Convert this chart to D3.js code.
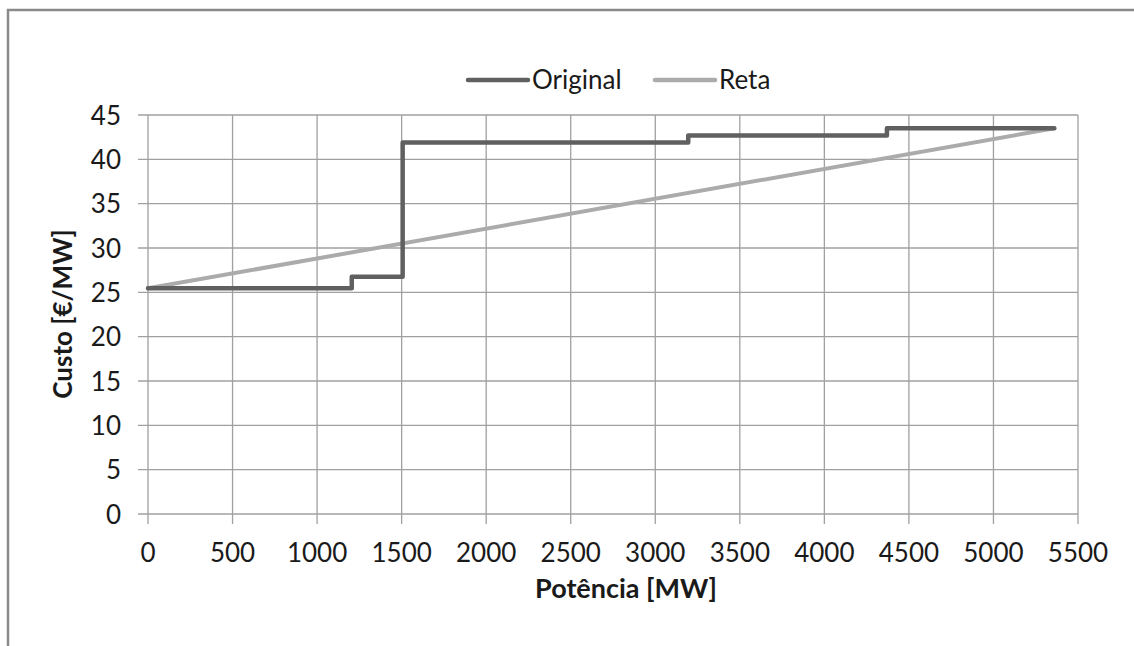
<!DOCTYPE html>
<html><head><meta charset="utf-8">
<script src="https://cdn.jsdelivr.net/npm/d3@7"></script>
<style>body{margin:0;background:#fff}svg{display:block}text{font-family:Lato,"Open Sans",sans-serif;fill:#1a1a1a}</style>
</head><body><svg id="c" width="1134" height="646"></svg>
<script>
const originalX = [0, 1205, 1205, 1506, 1506, 3195, 3195, 4370, 4370, 5360];
const originalY = [25.45, 25.45, 26.75, 26.75, 41.9, 41.9, 42.7, 42.7, 43.5, 43.5];
const retaX = [0, 5360];
const retaY = [25.45, 43.5];
const xTicks = [0,500,1000,1500,2000,2500,3000,3500,4000,4500,5000,5500];
const yTicks = [0,5,10,15,20,25,30,35,40,45];
const seriesNames = ["Original", "Reta"];
const seriesColors = ["#606060", "#ababab"];

const svg = d3.select("#c");
// frame (only top and left visible)
svg.append("path").attr("d","M8,646 L8,10 L1134,10").attr("fill","none").attr("stroke","#8a8a8a").attr("stroke-width",2.5);

const x = d3.scaleLinear().domain([0,5500]).range([148,1078]);
const y = d3.scaleLinear().domain([0,45]).range([514,115]);

const g = svg.append("g");
// gridlines
g.selectAll(".vg").data(xTicks).enter().append("line")
 .attr("x1",d=>x(d)).attr("x2",d=>x(d)).attr("y1",y(45)).attr("y2",y(0)+10)
 .attr("stroke","#a0a0a0").attr("stroke-width",1.3);
g.selectAll(".hg").data(yTicks).enter().append("line")
 .attr("x1",x(0)-10).attr("x2",x(5500)).attr("y1",d=>y(d)).attr("y2",d=>y(d))
 .attr("stroke","#a0a0a0").attr("stroke-width",1.3);

// tick labels
g.selectAll(".xl").data(xTicks).enter().append("text")
 .attr("x",d=>x(d)).attr("y",562).attr("text-anchor","middle").attr("font-size",26).text(d=>d);
g.selectAll(".yl").data(yTicks).enter().append("text")
 .attr("x",121).attr("y",d=>y(d)+9.5).attr("text-anchor","end").attr("font-size",26).text(d=>d);

// axis titles
svg.append("text").attr("x",626).attr("y",598).attr("text-anchor","middle")
 .attr("font-size",27).attr("font-weight","bold").text("Potência [MW]");
svg.append("text").attr("transform","translate(72,314) rotate(-90)").attr("text-anchor","middle")
 .attr("font-size",26).attr("font-weight","bold").text("Custo [€/MW]");

const line = d3.line().x(d=>x(d[0])).y(d=>y(d[1]));
const retaData = retaX.map((v,i)=>[v,retaY[i]]);
const origData = originalX.map((v,i)=>[v,originalY[i]]);
svg.append("path").datum(retaData).attr("d",line).attr("fill","none")
 .attr("stroke",seriesColors[1]).attr("stroke-width",4).attr("stroke-linecap","round");
svg.append("path").datum(origData).attr("d",line).attr("fill","none")
 .attr("stroke",seriesColors[0]).attr("stroke-width",4.5).attr("stroke-linejoin","round").attr("stroke-linecap","round");

// legend
const legX = [468, 655];
seriesNames.forEach((n,i)=>{
  svg.append("line").attr("x1",legX[i]).attr("x2",legX[i]+60).attr("y1",80).attr("y2",80)
   .attr("stroke",seriesColors[i]).attr("stroke-width",4.5).attr("stroke-linecap","round");
  svg.append("text").attr("x",legX[i]+64).attr("y",89).attr("font-size",26).text(n);
});
</script></body></html>
